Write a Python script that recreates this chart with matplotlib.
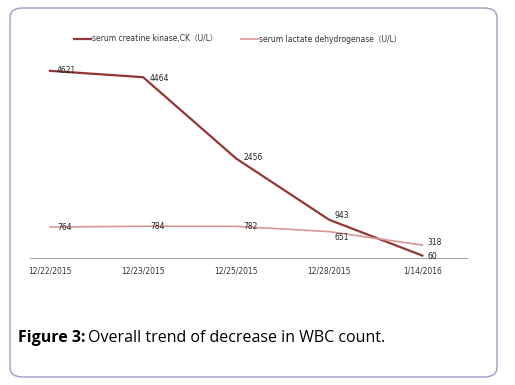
import matplotlib.pyplot as plt
from matplotlib.patches import FancyBboxPatch

plt.rcParams['font.family'] = ['DejaVu Sans', 'Noto Sans CJK SC']

dates = ['12/22/2015', '12/23/2015', '12/25/2015', '12/28/2015', '1/14/2016']
ck = [4621, 4464, 2456, 943, 60]
ldh = [764, 784, 782, 651, 318]
ck_name = 'serum creatine kinase,CK\uff08U/L\uff09'
ldh_name = 'serum lactate dehydrogenase\uff08U/L\uff09'

ck_color = '#943634'
ldh_color = '#D99694'

fig = plt.figure(figsize=(5.15, 3.85), dpi=100)

# rounded frame around the figure
frame = FancyBboxPatch((10 / 515, 8 / 385), 487 / 515, 369 / 385,
                       boxstyle='round,pad=0,rounding_size=0.025',
                       transform=fig.transFigure, fill=False,
                       edgecolor='#9B9BC8', linewidth=1.0)
fig.patches.append(frame)

ax = fig.add_axes([30 / 515, 127 / 385, 437 / 515, 0.526])
x = list(range(len(dates)))
ax.plot(x, ck, color=ck_color, linewidth=1.6, label=ck_name)
ax.plot(x, ldh, color=ldh_color, linewidth=1.2, label=ldh_name)

# data labels
ck_off = [(5, 0), (5, -1), (5, 1), (4, 3), (4, -1)]
ldh_off = [(5, 0), (5, 0), (5, 0), (4, -4), (4, 2)]
for xi, v, off in zip(x, ck, ck_off):
    ax.annotate(str(v), (xi, v), xytext=off, textcoords='offset points',
                ha='left', va='center', fontsize=5.5, color='#222222')
for xi, v, off in zip(x, ldh, ldh_off):
    ax.annotate(str(v), (xi, v), xytext=off, textcoords='offset points',
                ha='left', va='center', fontsize=5.5, color='#222222')

ax.set_xlim(-0.215, 4.48)
ax.set_ylim(0, 5000)
ax.set_xticks(x)
ax.set_xticklabels(dates, fontsize=5.5, color='#333333')
ax.tick_params(axis='x', length=0, pad=6)
ax.set_yticks([])
for s in ['top', 'right', 'left']:
    ax.spines[s].set_visible(False)
ax.spines['bottom'].set_color('#A8A8A8')
ax.spines['bottom'].set_linewidth(0.8)

fig.legend(loc='center', bbox_to_anchor=(238 / 515, 1 - 39 / 385), ncol=2,
           frameon=False, fontsize=5.5, handlelength=2.2, handletextpad=0.2,
           columnspacing=3.0, labelcolor='#333333')

fig.text(18 / 515, 1 - 338 / 385, 'Figure 3:', fontsize=11.5, fontweight='bold',
         family='Open Sans', va='center', ha='left')
fig.text(88 / 515, 1 - 338 / 385, 'Overall trend of decrease in WBC count.',
         fontsize=11.5, family='Open Sans', va='center', ha='left')

fig.savefig('out.png', dpi=100)
